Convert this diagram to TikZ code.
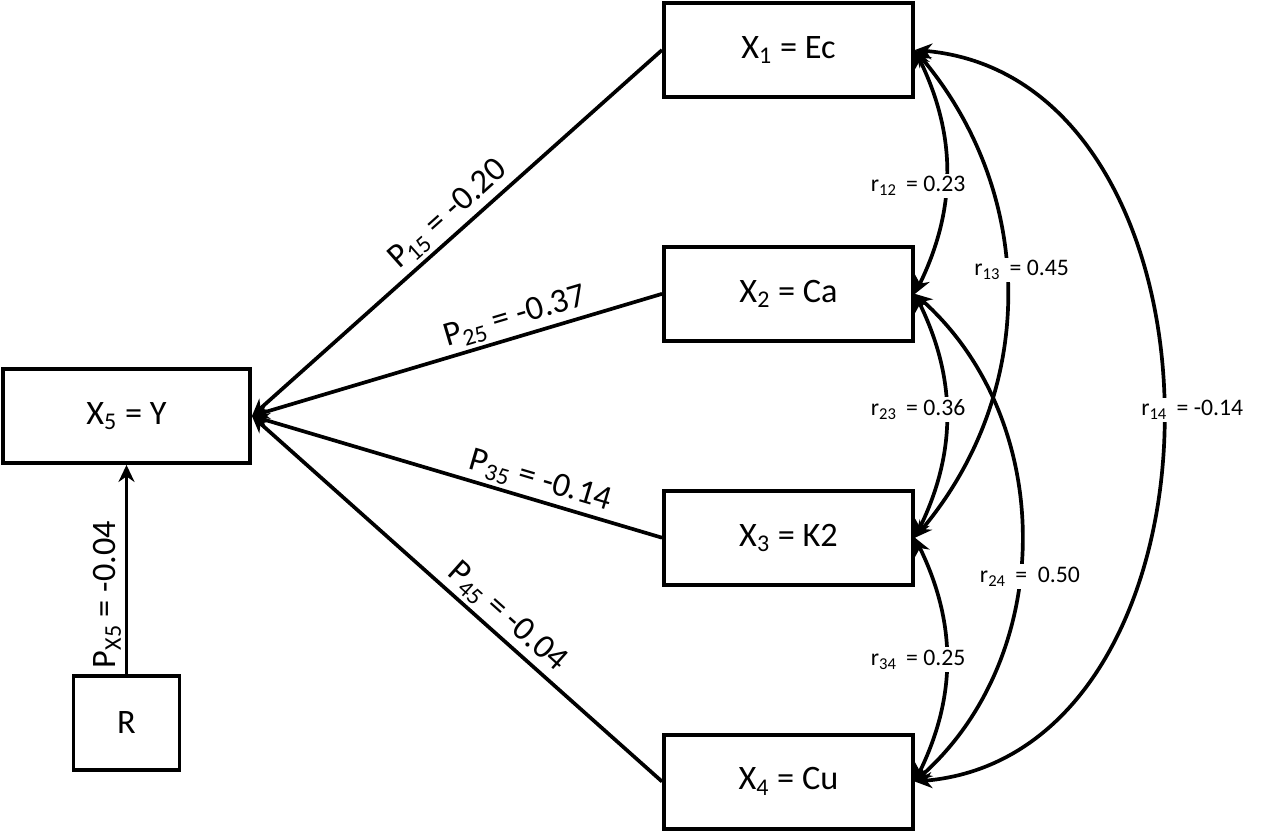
\documentclass[tikz,border=0pt]{standalone}
\usepackage{fontspec}
\setmainfont{Carlito}
\usetikzlibrary{arrows.meta, positioning}

\begin{document}
\begin{tikzpicture}[
    node distance=2.92cm,
    var/.style={rectangle, draw, line width=2.2pt, minimum width=4.98cm, minimum height=1.88cm,
                align=center, font=\fontsize{19.5}{23}\selectfont},
    coefline/.style={-{Stealth[length=0.34cm, width=0.32cm]}, line width=2.1pt},
    corrline/.style={{Stealth[length=0.34cm, width=0.32cm]}-{Stealth[length=0.34cm, width=0.32cm]}, line width=2.1pt},
    coef/.style={sloped, above, inner sep=2pt, font=\fontsize{19.5}{23}\selectfont},
    corr/.style={fill=white, inner sep=1.5pt, font=\fontsize{13.5}{16}\selectfont}
]
\useasboundingbox (0,0) rectangle (25.36,16.66);

\node[var] (x1) at (15.77,15.66) {X\textsubscript{1} = Ec};
\node[var, below=of x1] (x2) {X\textsubscript{2} = Ca};
\node[var, below=of x2] (x3) {X\textsubscript{3} = K2};
\node[var, below=of x3] (x4) {X\textsubscript{4} = Cu};

\node[var, minimum width=4.94cm] (x5) at (2.53,8.34) {X\textsubscript{5} = Y};
\node[var, minimum width=2.12cm, below=4.18cm of x5] (r) {R};

% path coefficients
\draw[coefline] (x1.west) -- node[coef, pos=0.49] {P\textsubscript{15} = -0.20} (x5.east);
\draw[coefline] (x2.west) -- node[coef, pos=0.345] {P\textsubscript{25} = -0.37} (x5.east);
\draw[coefline] (x3.west) -- node[coef, pos=0.31] {P\textsubscript{35} = -0.14} (x5.east);
\draw[coefline] (x4.west) -- node[coef, pos=0.41] {P\textsubscript{45} = -0.04} (x5.east);
\draw[coefline] (r.north) -- node[coef, pos=0.38] {P\textsubscript{X5} = -0.04} (x5.south);

% correlations
\draw[corrline] (x1.east) to[bend left=26] node[corr, xshift=-0.56cm, yshift=-0.28cm] {r\textsubscript{12}\, = 0.23} (x2.east);
\draw[corrline] (x2.east) to[bend left=26] node[corr, xshift=-0.56cm, yshift=0.12cm] {r\textsubscript{23}\, = 0.36} (x3.east);
\draw[corrline] (x3.east) to[bend left=26] node[corr, xshift=-0.56cm] {r\textsubscript{34}\, = 0.25} (x4.east);
\draw[corrline] (x1.east) to[bend left=40] node[corr, xshift=0.3cm, yshift=0.48cm] {r\textsubscript{13}\, = 0.45} (x3.east);
\draw[corrline] (x2.east) to[bend left=48] node[corr, xshift=0.18cm, yshift=-0.78cm] {r\textsubscript{24}\, =\ \ 0.50} (x4.east);
\draw[corrline] (x1.east) to[bend left=85, looseness=1.16] node[corr, xshift=0.6cm, yshift=0.12cm] {r\textsubscript{14}\, = -0.14} (x4.east);
\end{tikzpicture}
\end{document}
